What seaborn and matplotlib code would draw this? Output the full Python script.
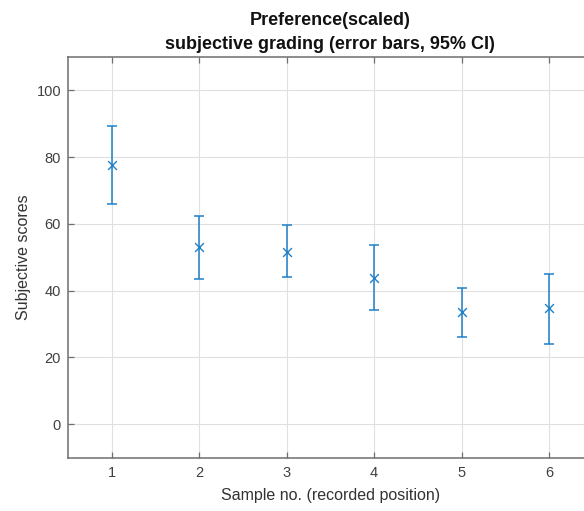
import matplotlib
matplotlib.use("Agg")
import matplotlib.pyplot as plt
import seaborn as sns
import numpy as np
import pandas as pd

samples = [1, 2, 3, 4, 5, 6]
means = [77.7, 53.2, 51.7, 43.9, 33.5, 34.7]
upper = [89.4, 62.4, 59.6, 53.7, 40.7, 45.1]
lower = [66.1, 43.4, 44.1, 34.1, 26.2, 24.1]
x_ticks = [1, 2, 3, 4, 5, 6]
y_ticks = [0, 20, 40, 60, 80, 100]

sns.set_theme(style="white")
plt.rcParams['font.family'] = ['Liberation Sans', 'DejaVu Sans']

df = pd.DataFrame({"sample": samples, "score": means, "hi": upper, "lo": lower})

fig = plt.figure(figsize=(5.84, 5.11), dpi=100)
ax = fig.add_axes([68/584, 1 - 457.5/511, (592.8 - 68)/584, (457.5 - 57)/511])

blue = "#1f80c8"
yerr = np.vstack([df["score"] - df["lo"], df["hi"] - df["score"]])
ax.errorbar(df["sample"], df["score"], yerr=yerr, fmt="none", ecolor=blue,
            elinewidth=1.1, capsize=3.6, capthick=1.1, zorder=3)
sns.scatterplot(data=df, x="sample", y="score", marker="x", s=40, color=blue,
                linewidth=1.0, ax=ax, zorder=4, legend=False)

ax.set_xlim(0.5, 6.5)
ax.set_ylim(-10, 110)
ax.set_xticks(x_ticks)
ax.set_yticks(y_ticks)
ax.grid(True, color="#e0e0e0", linewidth=0.8)
ax.set_axisbelow(True)

for side in ["left", "bottom", "top"]:
    ax.spines[side].set_color("#6e6e6e")
    ax.spines[side].set_linewidth(1.1)
ax.spines["right"].set_visible(False)
ax.tick_params(axis="both", direction="in", length=4, width=0.9, color="#6e6e6e",
               labelsize=10.5, labelcolor="#404040", top=True, bottom=True, left=True, right=False)
ax.tick_params(axis="x", pad=6)
ax.tick_params(axis="y", pad=5)

ax.set_xlabel("Sample no. (recorded position)", fontsize=11.5, color="#333333", labelpad=6)
ax.set_ylabel("Subjective scores", fontsize=11.5, color="#333333", labelpad=4)
ax.set_title("Preference(scaled)\nsubjective grading (error bars, 95% CI)",
             fontsize=13, fontweight="bold", color="#111111", pad=6, linespacing=1.55)

fig.savefig("out.png", dpi=100)
